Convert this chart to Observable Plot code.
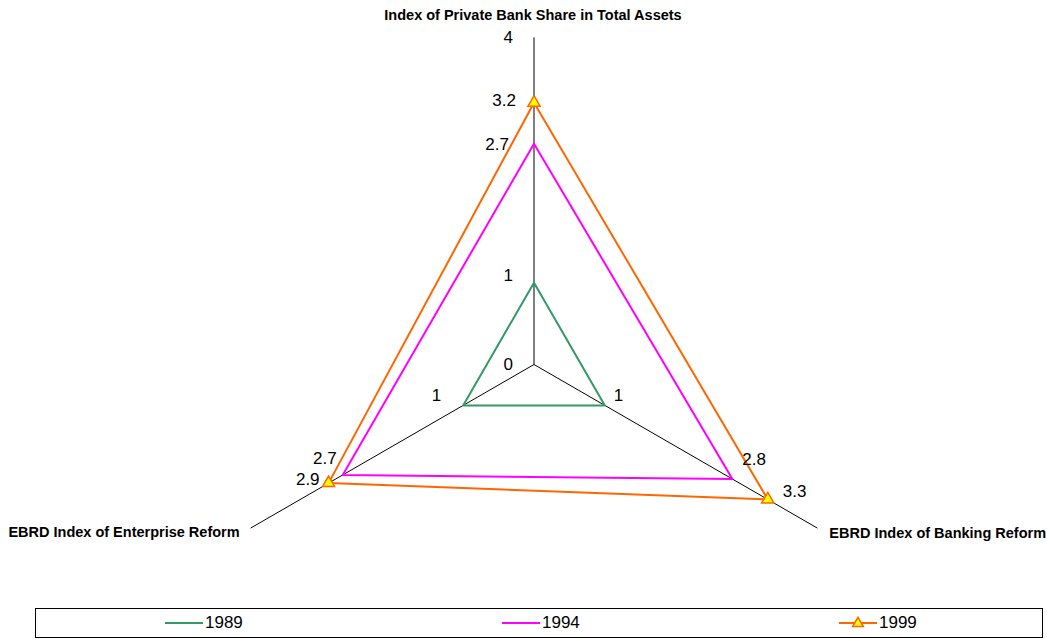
<!DOCTYPE html>
<html><head><meta charset="utf-8">
<script src="https://cdn.jsdelivr.net/npm/d3@7"></script>
<script src="https://cdn.jsdelivr.net/npm/@observablehq/plot@0.6"></script>
<style>
body{margin:0;background:#fff;font-family:"Liberation Sans",Arial,sans-serif;}
#wrap{position:relative;width:1047px;height:639px;overflow:hidden;}
#chart{position:absolute;left:0;top:0;}
#legend{position:absolute;left:35px;top:608px;width:1008px;height:30px;border:1px solid #000;box-sizing:border-box;}
.item{position:absolute;top:0;height:28px;display:flex;align-items:center;font-size:17px;color:#000;}
</style></head><body><div id="wrap"><div id="chart"></div><div id="legend"></div></div>
<script>
// ---- data ----
const axes = ["Index of Private Bank Share in Total Assets", "EBRD Index of Banking Reform", "EBRD Index of Enterprise Reform"];
const years = ["1989", "1994", "1999"];
const values1989 = [1, 1, 1];
const values1994 = [2.7, 2.8, 2.7];
const values1999 = [3.2, 3.3, 2.9];
const axisMax = 4;
const axisTickLabels = [0, 4];
const colors = ["#339966", "#FF00FF", "#FF6600"];

// ---- geometry ----
const W = 1047, H = 605, CX = 533.5, CY = 364, U = 81.8;
const ang = i => (90 - i * 120) * Math.PI / 180;
const px = (v, i) => v * Math.cos(ang(i));
const py = (v, i) => v * Math.sin(ang(i));

const seriesValues = [values1989, values1994, values1999];
const points = [];
seriesValues.forEach((vals, s) => vals.forEach((v, i) => points.push({year: years[s], s, i, v, x: px(v, i), y: py(v, i)})));
const closed = [];
seriesValues.forEach((vals, s) => [0, 1, 2, 0].forEach(i => closed.push({year: years[s], x: px(vals[i], i), y: py(vals[i], i)})));
const axisLines = axes.map((a, i) => ({name: a, i, x2: px(axisMax, i), y2: py(axisMax, i)}));

// label offsets (style)
const labelStyle = {
  "0-0": ["end", -21, -7], "0-1": ["end", -25, 1], "0-2": ["end", -18, -2],
  "1-0": ["start", 9, -10], "1-1": ["start", 10, -19], "1-2": ["start", 15, -8],
  "2-0": ["end", -22, -10], "2-1": ["end", -6, -16], "2-2": ["end", -9, -4]
};
const LF = 17;
const labelMarks = points.map(p => {
  const [anchor, dx, dy] = labelStyle[`${p.i}-${p.s}`];
  return Plot.text([p], {x: "x", y: "y", text: d => String(d.v), textAnchor: anchor, dx, dy, fontSize: LF, fill: "#000"});
});
const tickMarks = Plot.text(axisTickLabels, {x: d => px(d, 0), y: d => py(d, 0), text: d => String(d), textAnchor: "end", dx: -21, fontSize: LF, fill: "#000"});
const titleStyle = [["middle", -1, -22], ["start", 12, 5], ["end", -11, 4]];
const titleMarks = axisLines.map(a => {
  const [anchor, dx, dy] = titleStyle[a.i];
  return Plot.text([a], {x: "x2", y: "y2", text: "name", textAnchor: anchor, dx, dy, fontSize: 14.5, fontWeight: "bold", fill: "#000"});
});

const chart = Plot.plot({
  width: W, height: H, margin: 0,
  style: {fontFamily: "'Liberation Sans', Arial, sans-serif", background: "#fff"},
  x: {domain: [-CX / U, (W - CX) / U], axis: null},
  y: {domain: [-(H - CY) / U, CY / U], axis: null},
  color: {domain: years, range: colors},
  marks: [
    Plot.link(axisLines, {x1: 0, y1: 0, x2: "x2", y2: "y2", stroke: "#000", strokeWidth: 1}),
    Plot.line(closed, {x: "x", y: "y", z: "year", stroke: "year", strokeWidth: 2, curve: "linear"}),
    Plot.dot(points.filter(p => p.year === "1999"), {x: "x", y: "y", symbol: "triangle", r: 4.5, fill: "#FFFF00", stroke: "#FF6600", strokeWidth: 1.5}),
    tickMarks,
    ...labelMarks,
    ...titleMarks
  ]
});
document.getElementById("chart").appendChild(chart);

// ---- legend ----
const legendPos = [129, 466, 803];
const legend = d3.select("#legend");
years.forEach((y, k) => {
  const it = legend.append("div").attr("class", "item").style("left", legendPos[k] + "px");
  const svg = it.append("svg").attr("width", 38).attr("height", 14);
  svg.append("line").attr("x1", 0).attr("x2", 38).attr("y1", 7).attr("y2", 7).attr("stroke", colors[k]).attr("stroke-width", 2);
  if (y === "1999") svg.append("path").attr("d", d3.symbol(d3.symbolTriangle, 50)()).attr("transform", "translate(19,7.5)").attr("fill", "#FFFF00").attr("stroke", "#FF6600").attr("stroke-width", 1.5);
  it.append("span").style("margin-left", "2px").text(y);
});
</script></body></html>
